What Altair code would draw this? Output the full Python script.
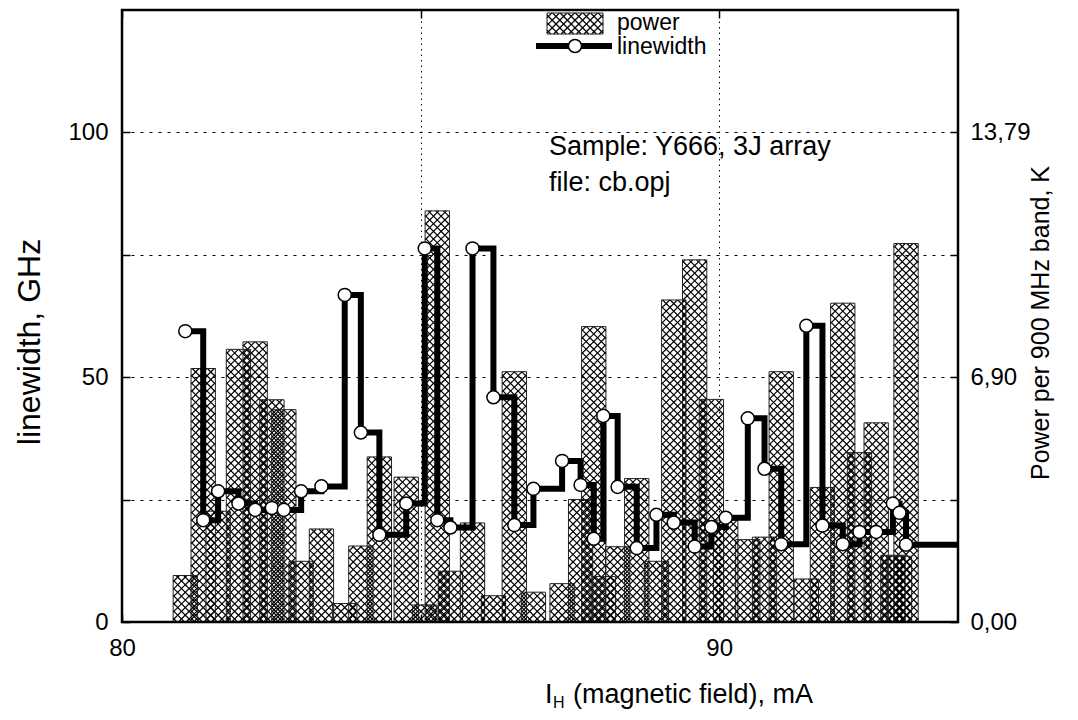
import altair as alt
import pandas as pd

# ---- data ----
I_mA = [81.06, 81.36, 81.61, 81.95, 82.23, 82.51, 82.71, 83.00, 83.34, 83.73,
        84.00, 84.31, 84.76, 85.07, 85.28, 85.50, 85.87, 86.22, 86.57, 86.89,
        87.37, 87.68, 87.90, 88.06, 88.30, 88.62, 88.95, 89.24, 89.59, 89.87,
        90.11, 90.48, 90.76, 91.04, 91.46, 91.73, 92.07, 92.35, 92.63, 92.91,
        93.02, 93.13]
linewidth_GHz = [59.4, 20.8, 26.7, 24.2, 22.9, 23.3, 22.9, 26.7, 27.7, 66.8,
                 38.7, 17.8, 24.2, 76.3, 20.8, 19.3, 76.3, 45.9, 19.8, 27.2,
                 32.9, 28.0, 17.0, 42.1, 27.6, 15.1, 21.9, 20.3, 15.4, 19.4,
                 21.3, 41.6, 31.3, 15.9, 60.5, 19.7, 15.9, 18.4, 18.4, 24.2,
                 22.3, 15.8]
power_K = [1.31, 7.14, 3.12, 7.68, 7.89, 6.26, 5.98, 1.71, 2.62, 0.52,
           2.14, 4.65, 4.08, 0.48, 11.58, 1.43, 2.79, 0.74, 7.05, 0.84,
           1.08, 3.45, 8.32, 1.28, 2.12, 4.04, 1.71, 9.07, 10.20, 6.27,
           2.87, 2.32, 2.39, 7.05, 1.21, 3.79, 8.98, 4.77, 5.61, 1.88,
           1.85, 10.66]

x_domain = [80, 94]
x_ticks = [80, 85, 90]
x_labelled = [80, 90]
lw_domain = [0, 125]
lw_ticks = [0, 25, 50, 75, 100]
lw_labelled = [0, 50, 100]
K_per_GHz = 13.79 / 100          # right axis calibration (100 GHz <-> 13,79 K)
power_ticks = [v * K_per_GHz for v in lw_ticks]
power_labels = ["0,00", "", "6,90", "", "13,79"]

legend_texts = ["power", "linewidth"]
note_texts = ["Sample: Y666, 3J array", "file: cb.opj"]

# ---- styles ----
FONT = "Liberation Sans"
BAR_HALF = 0.2035   # half bar width, mA
W, H = 836, 612
HATCH = 7.6         # cross-hatch pitch, px
HATCH_W = 1.2
LINE_W = 6
PT_SIZE = 170
FRAME_W = 2         # frame thickness, px

df = pd.DataFrame({"I": I_mA, "lw": linewidth_GHz, "power": power_K})
line_df = pd.concat([df[["I", "lw"]],
                     pd.DataFrame({"I": [x_domain[1]], "lw": [linewidth_GHz[-1]]})],
                    ignore_index=True)

p_max = lw_domain[1] * K_per_GHz
px_per_mA = W / (x_domain[1] - x_domain[0])
px_per_K = H / p_max


def hatch_segments(w, h):
    """45-degree cross-hatch segments inside a w x h box (px, y up)."""
    segs = []
    c = -w + HATCH / 2
    while c < h:
        xa, xb = max(0.0, -c), min(w, h - c)
        if xb > xa:
            segs.append((xa, xa + c, xb, xb + c))
        c += HATCH
    c = HATCH / 2
    while c < w + h:
        xa, xb = max(0.0, c - h), min(w, c)
        if xb > xa:
            segs.append((xa, c - xa, xb, c - xb))
        c += HATCH
    return segs


rows = []
bw = 2 * BAR_HALF * px_per_mA
for I, p in zip(I_mA, power_K):
    xl = I - BAR_HALF
    for xa, ya, xb, yb in hatch_segments(bw, p * px_per_K):
        rows.append({"hx": xl + xa / px_per_mA, "hy": ya / px_per_K,
                     "hx2": xl + xb / px_per_mA, "hy2": yb / px_per_K})
hatch_df = pd.DataFrame(rows)

xscale = alt.Scale(domain=x_domain, nice=False, zero=False)
lwscale = alt.Scale(domain=lw_domain, nice=False)
pscale = alt.Scale(domain=[0, p_max], nice=False)

x_label_expr = " || ".join(f"datum.value == {v}" for v in x_labelled)
x_axis = alt.Axis(values=x_ticks, labelExpr=f"({x_label_expr}) ? datum.label : ''",
                  orient="bottom", offset=-8, tickSize=8, tickColor="black", tickWidth=1.5,
                  domain=False, grid=True, gridColor="black", gridDash=[1.5, 4],
                  gridWidth=1, labelFontSize=24, labelFont=FONT, labelColor="black",
                  labelPadding=14, labelFlush=False, title=None)
x_axis_top = alt.Axis(values=x_ticks, orient="top", offset=-8, tickSize=8,
                      tickColor="black", tickWidth=1.5, domain=False, grid=False,
                      labels=False, title=None)

lw_label_expr = " || ".join(f"datum.value == {v}" for v in lw_labelled)
y_left_axis = alt.Axis(values=lw_ticks, labelExpr=f"({lw_label_expr}) ? datum.label : ''",
                       orient="left", offset=-8, tickSize=8, tickColor="black",
                       tickWidth=1.5, domain=False, grid=True, gridColor="black",
                       gridDash=[3, 6], gridWidth=1, labelFontSize=24, labelFont=FONT,
                       labelColor="black", labelPadding=14, labelFlush=False, title=None)

p_expr = ""
for v, lab in zip(power_ticks, power_labels):
    p_expr += f"abs(datum.value - {v}) < 0.001 ? '{lab}' : "
p_expr += "''"
y_right_axis = alt.Axis(values=power_ticks, labelExpr=p_expr, orient="right", offset=-8,
                        tickSize=8, tickColor="black", tickWidth=1.5, domain=False,
                        grid=False, labelFontSize=24, labelFont=FONT, labelColor="black",
                        labelPadding=12, labelFlush=False, title=None)

BAR_STYLE = dict(fill="white", fillOpacity=0, stroke="#222", strokeWidth=1)

bars = alt.Chart(df).transform_calculate(
    x0=f"datum.I - {BAR_HALF}", x1=f"datum.I + {BAR_HALF}"
).mark_bar(**BAR_STYLE).encode(
    x=alt.X("x0:Q", scale=xscale, axis=x_axis),
    x2="x1:Q",
    y=alt.Y("power:Q", scale=pscale, axis=y_right_axis),
    y2=alt.datum(0),
)
hatch = alt.Chart(hatch_df).mark_rule(color="black", strokeWidth=HATCH_W).encode(
    x=alt.X("hx:Q", scale=xscale, axis=x_axis),
    x2="hx2:Q",
    y=alt.Y("hy:Q", scale=pscale, axis=y_right_axis),
    y2="hy2:Q",
)
bar_group = alt.layer(hatch, bars)

line = alt.Chart(line_df).mark_line(color="black", strokeWidth=LINE_W,
                                    interpolate="step-after").encode(
    x=alt.X("I:Q", scale=xscale, axis=None),
    y=alt.Y("lw:Q", scale=lwscale, axis=y_left_axis),
)
points = alt.Chart(df).mark_point(shape="circle", filled=True, fill="white",
                                  stroke="black", strokeWidth=1.5, size=PT_SIZE,
                                  opacity=1).encode(
    x=alt.X("I:Q", scale=xscale, axis=None),
    y=alt.Y("lw:Q", scale=lwscale, axis=y_left_axis),
)

# frame of the plot box: a rectangle spanning the full domains
frame_df = pd.DataFrame({"fx": [x_domain[0]], "fx2": [x_domain[1]],
                         "fy": [lw_domain[0]], "fy2": [lw_domain[1]]})
frame = alt.Chart(frame_df).mark_rect(
    fill="white", fillOpacity=0, stroke="#000000", strokeWidth=2.5,
    strokeOpacity=1).encode(
    x=alt.X("fx:Q", scale=xscale, axis=None),
    x2="fx2:Q",
    y=alt.Y("fy:Q", scale=lwscale, axis=y_left_axis),
    y2="fy2:Q",
)
lw_layer = alt.layer(line, points, frame)

top_ticks = alt.Chart(df).mark_point(opacity=0).encode(
    x=alt.X("I:Q", scale=xscale, axis=x_axis_top)
)

# frame as four thin filled bands along the plot edges (pixel space)
one = pd.DataFrame({"k": [0]})
half = FRAME_W / 2
band_left = alt.Chart(one).mark_rect(fill="black", opacity=1).encode(
    x=alt.value(-half), x2=alt.value(half), y=alt.value(-half), y2=alt.value(H + half))
band_right = alt.Chart(one).mark_rect(fill="black", opacity=1).encode(
    x=alt.value(W - half), x2=alt.value(W + half), y=alt.value(-half),
    y2=alt.value(H + half))
band_top = alt.Chart(one).mark_rect(fill="black", opacity=1).encode(
    x=alt.value(-half), x2=alt.value(W + half), y=alt.value(-half), y2=alt.value(half))
band_bottom = alt.Chart(one).mark_rect(fill="black", opacity=1).encode(
    x=alt.value(-half), x2=alt.value(W + half), y=alt.value(H - half),
    y2=alt.value(H + half))

# legend (drawn by hand, as in the original)
LB = (425, 3, 56, 21)   # swatch x, y, w, h in px
leg_rows = [{"lx": LB[0] + xa, "ly": LB[1] + LB[3] - ya,
             "lx2": LB[0] + xb, "ly2": LB[1] + LB[3] - yb}
            for xa, ya, xb, yb in hatch_segments(LB[2], LB[3])]
leg_hatch = alt.Chart(pd.DataFrame(leg_rows)).mark_rule(
    color="black", strokeWidth=HATCH_W).encode(
    x=alt.X("lx:Q", scale=None), x2="lx2:Q",
    y=alt.Y("ly:Q", scale=None), y2="ly2:Q")
leg_box = alt.Chart(one).mark_rect(**BAR_STYLE).encode(
    x=alt.value(LB[0]), x2=alt.value(LB[0] + LB[2]),
    y=alt.value(LB[1]), y2=alt.value(LB[1] + LB[3]))
leg_line = alt.Chart(one).mark_rule(color="black", strokeWidth=LINE_W).encode(
    x=alt.value(414), x2=alt.value(490), y=alt.value(36))
leg_pt = alt.Chart(one).mark_point(
    shape="circle", filled=True, fill="white", stroke="black", strokeWidth=1.5,
    size=PT_SIZE, opacity=1).encode(x=alt.value(453), y=alt.value(36))
leg_txt = alt.Chart(pd.DataFrame({"t": legend_texts, "yy": [13, 37]})).mark_text(
    align="left", baseline="middle", font=FONT, fontSize=23, color="black").encode(
    text="t:N", x=alt.value(495), y=alt.Y("yy:Q", scale=None))

notes = alt.Chart(pd.DataFrame({"t": note_texts, "yy": [137, 173]})).mark_text(
    align="left", baseline="middle", font=FONT, fontSize=27, color="black").encode(
    text="t:N", x=alt.value(427), y=alt.Y("yy:Q", scale=None))

# axis titles
ytitle_l = alt.Chart(pd.DataFrame({"t": ["linewidth, GHz"]})).mark_text(
    angle=270, align="center", baseline="middle", font=FONT, fontSize=32,
    color="black").encode(text="t:N", x=alt.value(-92), y=alt.value(332))
ytitle_r = alt.Chart(pd.DataFrame({"t": ["Power per 900 MHz band, K"]})).mark_text(
    angle=270, align="center", baseline="middle", font=FONT, fontSize=25,
    color="black").encode(text="t:N", x=alt.value(919), y=alt.value(313))
xt_I = alt.Chart(pd.DataFrame({"t": ["I"]})).mark_text(
    align="left", baseline="alphabetic", font=FONT, fontSize=27, color="black").encode(
    text="t:N", x=alt.value(423), y=alt.value(693))
xt_H = alt.Chart(pd.DataFrame({"t": ["H"]})).mark_text(
    align="left", baseline="alphabetic", font=FONT, fontSize=16, color="black").encode(
    text="t:N", x=alt.value(431), y=alt.value(698))
xt_rest = alt.Chart(pd.DataFrame({"t": ["(magnetic field), mA"]})).mark_text(
    align="left", baseline="alphabetic", font=FONT, fontSize=27, color="black").encode(
    text="t:N", x=alt.value(451), y=alt.value(693))

chart = alt.layer(
    bar_group, lw_layer, top_ticks,
    band_left, band_right, band_top, band_bottom,
    leg_hatch, leg_box, leg_line, leg_pt, leg_txt, notes,
    ytitle_l, ytitle_r, xt_I, xt_H, xt_rest,
).resolve_scale(y="independent").resolve_axis(x="independent").properties(
    width=W, height=H,
    autosize=alt.AutoSizeParams(type="none"),
    padding={"left": 114, "top": 2, "right": 104, "bottom": 90},
    background="white",
).configure_view(stroke="black", strokeWidth=2)

chart.save("out.html", embed_options={"renderer": "svg", "actions": False})
